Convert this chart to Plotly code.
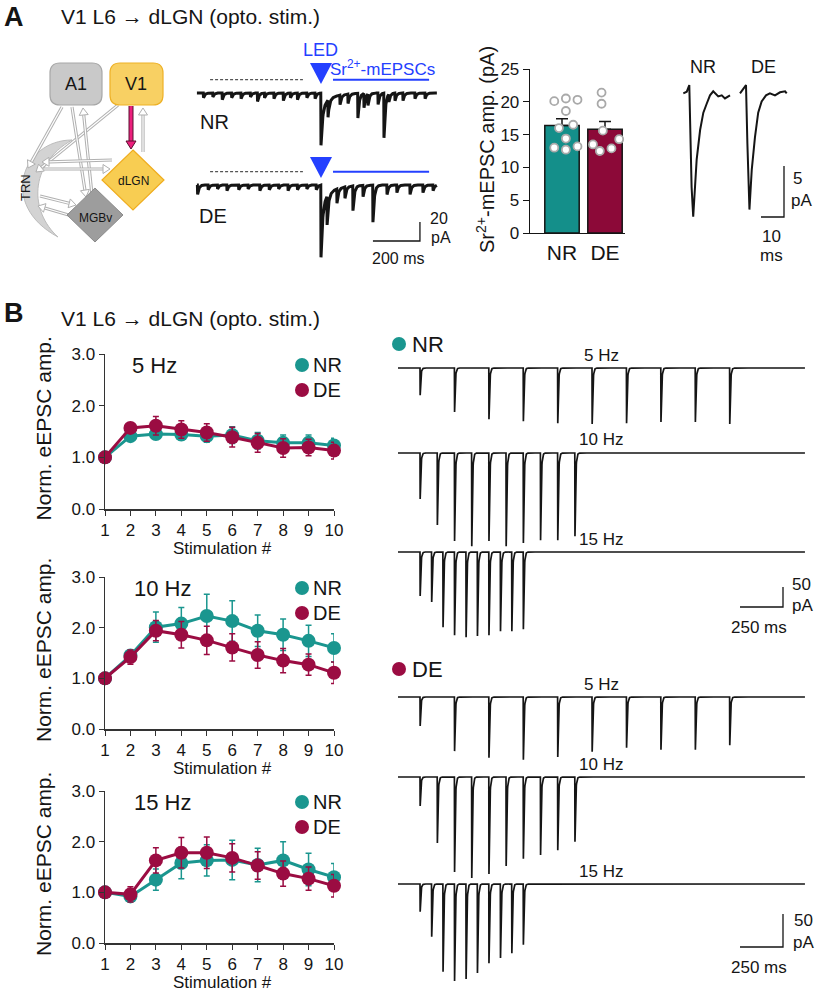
import numpy as np
import plotly.graph_objects as go

# The page body margin is removed by a post script, so the figure fills the window.
PAGE_PAD = 0
W, H = 820 - PAGE_PAD, 996 - PAGE_PAD
FONT = "Liberation Sans, Arial, Helvetica, sans-serif"
INK = "#151515"
NR_COLOR = "#1a968f"
DE_COLOR = "#9b0c42"
NR_BAR_COLOR = "#148f8a"
DE_BAR_COLOR = "#8c0938"
LED_BLUE = "#2440ff"

# ------------------------------------------------------------------ DATA
# Panel A - example Sr2+ sweeps (event time re LED [ms], amplitude [pA])
NR_EVOKED_PA = 55
DE_EVOKED_PA = 76
NR_EVENT_MS = [-500, -460, -420, -380, -340, -300, -270, -240, -200, -160, -130, -100, -60, -25,
               30, 81, 115, 157, 183, 200, 243, 268, 289, 315, 349, 400, 443]
NR_EVENT_PA = [5, 4, 7, 5, 6, 4, 9, 5, 6, 8, 5, 7, 5, 6,
               18, 10, 10, 26, 15, 12, 12, 47, 8, 8, 8, 6, 6]
DE_EVENT_MS = [-525, -480, -440, -400, -350, -310, -260, -220, -180, -140, -100, -60, -20,
               26, 68, 102, 136, 179, 221, 281, 323, 379, 434, 477]
DE_EVENT_PA = [10, 5, 4, 6, 5, 4, 6, 5, 4, 6, 5, 4, 5,
               30, 15, 12, 26, 12, 39, 10, 8, 10, 8, 6]

# Panel A - Sr2+-mEPSC amplitude summary
GROUPS = ["NR", "DE"]
GROUP_MEAN_PA = [16.4, 15.8]
GROUP_SEM_PA = [1.0, 1.2]
NR_CELL_PA = [20.1, 20.5, 20.3, 18.6, 16.0, 16.5, 14.4, 13.0, 12.7, 13.2]
DE_CELL_PA = [21.4, 19.7, 15.6, 14.3, 13.5, 12.5, 12.9]
NR_CELL_JITTER = [-0.18, 0.09, 0.36, 0.09, -0.07, 0.26, 0.09, -0.18, 0.09, 0.36]
DE_CELL_JITTER = [-0.08, -0.08, -0.05, 0.33, -0.28, -0.12, 0.15]

# Panel A - average mEPSC waveforms
NR_AVG_MS = [-2.6, -1.1, 0.0, 0.3, 1.0, 1.7, 3.2, 4.7, 6.1, 7.6, 9.0, 10.4, 12.6, 14.1, 15.5, 17.7]
NR_AVG_PA = [0.0, 0.16, 0.8, -3.3, -9.2, -12.1, -6.5, -3.6, -1.9, -1.0, -0.2, 0.2, -0.3, -0.2, -0.5, -0.2]
DE_AVG_MS = [-2.6, 0.0, 0.6, 1.2, 1.5, 2.5, 3.9, 5.3, 6.8, 8.7, 10.4, 12.6, 14.8, 17.0, 17.7]
DE_AVG_PA = [0.0, 0.8, -4.9, -10.5, -11.4, -7.5, -4.3, -1.9, -0.8, -0.2, 0.0, -0.2, 0.1, 0.2, 0.0]

# Panel B - normalized eEPSC amplitudes (mean, SEM)
STIM_NUM = list(range(1, 11))
NR_5HZ = [1.00, 1.41, 1.45, 1.44, 1.41, 1.43, 1.32, 1.28, 1.28, 1.23]
NR_5HZ_SEM = [0.0, 0.05, 0.08, 0.10, 0.12, 0.16, 0.16, 0.15, 0.15, 0.14]
DE_5HZ = [1.00, 1.57, 1.61, 1.54, 1.48, 1.39, 1.28, 1.18, 1.19, 1.13]
DE_5HZ_SEM = [0.0, 0.06, 0.18, 0.17, 0.17, 0.19, 0.18, 0.18, 0.16, 0.16]
NR_10HZ = [1.00, 1.45, 2.01, 2.08, 2.23, 2.13, 1.94, 1.86, 1.74, 1.60]
NR_10HZ_SEM = [0.0, 0.10, 0.30, 0.32, 0.43, 0.40, 0.31, 0.31, 0.31, 0.28]
DE_10HZ = [1.00, 1.42, 1.94, 1.86, 1.75, 1.61, 1.46, 1.35, 1.27, 1.11]
DE_10HZ_SEM = [0.0, 0.14, 0.20, 0.26, 0.28, 0.27, 0.26, 0.24, 0.21, 0.21]
NR_15HZ = [1.00, 0.92, 1.25, 1.58, 1.63, 1.64, 1.54, 1.63, 1.45, 1.30]
NR_15HZ_SEM = [0.0, 0.08, 0.21, 0.31, 0.31, 0.39, 0.33, 0.37, 0.32, 0.27]
DE_15HZ = [1.00, 0.96, 1.63, 1.78, 1.78, 1.68, 1.53, 1.37, 1.27, 1.13]
DE_15HZ_SEM = [0.0, 0.15, 0.25, 0.30, 0.31, 0.28, 0.27, 0.25, 0.23, 0.22]

# Panel B - example train responses (peak amplitude per pulse, pA)
TRAIN_FREQ_HZ = [5, 10, 15]
NR_TRAIN_5HZ_PA = [68, 110, 128, 133, 138, 140, 138, 135, 135, 140]
NR_TRAIN_10HZ_PA = [115, 180, 220, 233, 220, 233, 225, 218, 218, 208]
NR_TRAIN_15HZ_PA = [110, 125, 188, 208, 213, 210, 208, 198, 198, 193]
DE_TRAIN_5HZ_PA = [44, 82, 92, 95, 91, 83, 77, 80, 80, 73]
DE_TRAIN_10HZ_PA = [44, 100, 144, 153, 147, 135, 124, 118, 111, 98]
DE_TRAIN_15HZ_PA = [42, 80, 133, 147, 144, 135, 120, 112, 105, 92]


# ------------------------------------------------------------------ HELPERS
def X(p):
    return (p - PAGE_PAD) / W


def Y(p):
    return 1 - (p - PAGE_PAD) / H


def dom_x(a, b):
    return [X(a), X(b)]


def dom_y(top, bottom):
    return [Y(bottom), Y(top)]


def xr(p0, p1, p_ref, v_ref, ppu):
    return [v_ref + (p0 - p_ref) / ppu, v_ref + (p1 - p_ref) / ppu]


def yr(top, bottom, p_ref, v_ref, ppu):
    return [v_ref - (bottom - p_ref) / ppu, v_ref - (top - p_ref) / ppu]


def txt(x, y, s, size=17, color=INK, anchor="center", angle=0):
    return dict(x=X(x), y=Y(y), xref="paper", yref="paper", text=s, showarrow=False,
                font=dict(family=FONT, size=size, color=color), xanchor=anchor,
                yanchor="middle", textangle=angle, borderpad=0)


def ppath(points, close=True):
    s = "M " + " L ".join(f"{X(a):.5f},{Y(b):.5f}" for a, b in points)
    return s + (" Z" if close else "")


def rrect(x0, y0, x1, y1, r):
    def P(a, b):
        return f"{X(a):.5f},{Y(b):.5f}"
    return (f"M {P(x0 + r, y0)} L {P(x1 - r, y0)} Q {P(x1, y0)} {P(x1, y0 + r)} "
            f"L {P(x1, y1 - r)} Q {P(x1, y1)} {P(x1 - r, y1)} L {P(x0 + r, y1)} "
            f"Q {P(x0, y1)} {P(x0, y1 - r)} L {P(x0, y0 + r)} Q {P(x0, y0)} {P(x0 + r, y0)} Z")


def circle(cx, cy, r, color):
    return dict(type="circle", xref="paper", yref="paper", x0=X(cx - r), x1=X(cx + r),
                y0=Y(cy + r), y1=Y(cy - r), fillcolor=color, line=dict(width=0))


def arrow_shapes(tail, head, outer="#b0b0b0", inner="white", w_out=3.2, w_in=1.2, hl=7, hw=4.5):
    dx, dy = head[0] - tail[0], head[1] - tail[1]
    L = (dx * dx + dy * dy) ** 0.5
    ux, uy = dx / L, dy / L
    bx, by = head[0] - hl * ux, head[1] - hl * uy
    px_, py_ = -uy, ux
    out = [dict(type="line", xref="paper", yref="paper", x0=X(tail[0]), y0=Y(tail[1]), x1=X(bx), y1=Y(by),
                line=dict(color=outer, width=w_out))]
    if inner:
        out.append(dict(type="line", xref="paper", yref="paper", x0=X(tail[0]), y0=Y(tail[1]),
                        x1=X(bx), y1=Y(by), line=dict(color=inner, width=w_in)))
    out.append(dict(type="path", xref="paper", yref="paper",
                    path=ppath([head, (bx + hw * px_, by + hw * py_), (bx - hw * px_, by - hw * py_)]),
                    fillcolor=inner if inner else outer, line=dict(color=outer, width=1)))
    return out


def sr_sweep(t, evoked, ev_t, ev_a):
    y = np.zeros_like(t)
    d = t.copy()
    m = d >= 0
    y[m] -= evoked * 0.75 * np.exp(-d[m] / 7.0) + evoked * 0.25 * np.exp(-d[m] / 45.0)
    for t0, a in zip(ev_t, ev_a):
        d = t - t0
        m = d >= 0
        y[m] -= a * np.exp(-d[m] / 6.0)
    return y


def train_sweep(t, freq, amps):
    y = np.zeros_like(t)
    for k, a in enumerate(amps):
        t0 = round(k * 1000.0 / freq)
        d = t - (t0 + 1)
        m = d >= 0
        y[m] -= a * np.exp(-d[m] / 4.0)
    return y


fig = go.Figure()
shapes = []
ann = []
layout_axes = {}
HIDDEN = dict(visible=False, showgrid=False, zeroline=False, fixedrange=True, automargin=False)

# ------------------------------------------------------------------ Panel A: sweeps (axis 1)
A_PPU_X, A_PPU_Y = 0.235, 0.95
A_DE_OFFSET = -(185 - 93) / A_PPU_Y
t_sr = np.arange(-528, 494, 1.0)
nr_sw = sr_sweep(t_sr, NR_EVOKED_PA, NR_EVENT_MS, NR_EVENT_PA)
de_sw = sr_sweep(t_sr, DE_EVOKED_PA, DE_EVENT_MS, DE_EVENT_PA) + A_DE_OFFSET
for ysw in (nr_sw, de_sw):
    fig.add_trace(go.Scatter(x=t_sr, y=ysw, mode="lines", line=dict(color=INK, width=3.0),
                             xaxis="x", yaxis="y", hoverinfo="skip"))
layout_axes["xaxis"] = dict(HIDDEN, domain=dom_x(195, 440), range=xr(195, 440, 321, 0, A_PPU_X), anchor="y")
layout_axes["yaxis"] = dict(HIDDEN, domain=dom_y(45, 265), range=yr(45, 265, 93, 0, A_PPU_Y), anchor="x")
for base in (0, A_DE_OFFSET):
    shapes.append(dict(type="line", xref="x", yref="y", x0=-472, x1=-77, y0=base + 14, y1=base + 14,
                       line=dict(color="#555555", width=1.2, dash="3px,2px")))
    shapes.append(dict(type="line", xref="x", yref="y", x0=51, x1=460, y0=base + 14, y1=base + 14,
                       line=dict(color=LED_BLUE, width=2)))
shapes.append(dict(type="path", xref="paper", yref="paper", path=ppath([(310, 63), (332, 63), (321, 84)]),
                   fillcolor=LED_BLUE, line=dict(width=0)))
shapes.append(dict(type="path", xref="paper", yref="paper", path=ppath([(310, 157), (332, 157), (321, 178)]),
                   fillcolor=LED_BLUE, line=dict(width=0)))
sb_y = -(241 - 93) / A_PPU_Y
shapes.append(dict(type="path", xref="x", yref="y",
                   path=f"M 221,{sb_y} L 421,{sb_y} L 421,{sb_y + 20}",
                   line=dict(color=INK, width=1.3)))
ann += [txt(320, 50, "LED", 18, LED_BLUE), txt(382, 68, "Sr<sup>2+</sup>-mEPSCs", 17, LED_BLUE),
        txt(214, 122, "NR", 20), txt(213, 216, "DE", 20),
        txt(439, 219, "20", 16), txt(441, 238, "pA", 16), txt(398, 258, "200 ms", 16)]

# ------------------------------------------------------------------ Panel A: bar chart (axis 2)
fig.add_trace(go.Bar(x=[0, 1], y=GROUP_MEAN_PA, width=0.8,
                     marker=dict(color=[NR_BAR_COLOR, DE_BAR_COLOR], line=dict(color=INK, width=1.5)),
                     error_y=dict(type="data", array=GROUP_SEM_PA, arrayminus=[0, 0], symmetric=False,
                                  color=INK, thickness=1.5, width=6),
                     xaxis="x2", yaxis="y2", hoverinfo="skip"))
for gi, (vals, jit) in enumerate([(NR_CELL_PA, NR_CELL_JITTER), (DE_CELL_PA, DE_CELL_JITTER)]):
    fig.add_trace(go.Scatter(x=[gi + j for j in jit], y=vals, mode="markers",
                             marker=dict(symbol="circle", size=8, color="white",
                                         line=dict(color="#a9a9a9", width=1.8)),
                             cliponaxis=False, xaxis="x2", yaxis="y2", hoverinfo="skip"))
layout_axes["xaxis2"] = dict(domain=dom_x(530, 625), range=[-0.744, 1.465], anchor="y2", automargin=False,
                             showline=True, linecolor=INK, linewidth=1.3, ticks="",
                             tickvals=[0, 1], ticktext=GROUPS, showgrid=False, zeroline=False,
                             tickfont=dict(family=FONT, size=21, color=INK), fixedrange=True)
layout_axes["yaxis2"] = dict(domain=dom_y(69, 233), range=[0, 25], anchor="x2", automargin=False,
                             showline=True, linecolor=INK, linewidth=1.3, ticks="outside", ticklen=6,
                             tickcolor=INK, tickvals=[0, 5, 10, 15, 20, 25], showgrid=False,
                             zeroline=False, tickfont=dict(family=FONT, size=17, color=INK), fixedrange=True)
ann.append(txt(486, 150, "Sr<sup>2+</sup>-mEPSC amp. (pA)", 20, angle=-90))

# ------------------------------------------------------------------ Panel A: average waveforms (axis 3)
AVG_PPU_X, AVG_PPU_Y = 2.3, 10.2
AVG_DE_SHIFT_MS = (746 - 689.3) / AVG_PPU_X
fig.add_trace(go.Scatter(x=NR_AVG_MS, y=NR_AVG_PA, mode="lines", line=dict(color=INK, width=2),
                         xaxis="x3", yaxis="y3", hoverinfo="skip"))
fig.add_trace(go.Scatter(x=[t + AVG_DE_SHIFT_MS for t in DE_AVG_MS], y=DE_AVG_PA, mode="lines",
                         line=dict(color=INK, width=2), xaxis="x3", yaxis="y3", hoverinfo="skip"))
layout_axes["xaxis3"] = dict(HIDDEN, domain=dom_x(675, 798), range=xr(675, 798, 689.3, 0, AVG_PPU_X), anchor="y3")
layout_axes["yaxis3"] = dict(HIDDEN, domain=dom_y(75, 225), range=yr(75, 225, 93.3, 0, AVG_PPU_Y), anchor="x3")
avg_sb_x = (784 - 689.3) / AVG_PPU_X
avg_sb_y = -(217 - 93.3) / AVG_PPU_Y
shapes.append(dict(type="path", xref="x3", yref="y3",
                   path=f"M {avg_sb_x - 10},{avg_sb_y} L {avg_sb_x},{avg_sb_y} L {avg_sb_x},{avg_sb_y + 5}",
                   line=dict(color=INK, width=1.3)))
ann += [txt(703, 67, "NR", 18), txt(763, 67, "DE", 18),
        txt(797, 178, "5", 17), txt(801, 200, "pA", 17), txt(771, 237, "10", 17), txt(771, 256, "ms", 17)]

# ------------------------------------------------------------------ Circuit diagram
shapes.append(dict(type="path", xref="paper", yref="paper",
                   path=(f"M {X(72):.5f},{Y(140):.5f} C {X(22):.5f},{Y(140):.5f} {X(-2):.5f},{Y(205):.5f} {X(58):.5f},{Y(237):.5f} "
                         f"C {X(30):.5f},{Y(212):.5f} {X(28):.5f},{Y(165):.5f} {X(72):.5f},{Y(140):.5f} Z"),
                   fillcolor="#d3d3d3", line=dict(color="#bcbcbc", width=1)))
for tail, head in [((62, 107), (28, 168)), ((118, 105), (36, 172)),
                   ((72, 107), (86, 197)), ((92, 195), (83, 108)),
                   ((143, 152), (143, 108)),
                   ((112, 160), (42, 162)), ((44, 169), (110, 169)),
                   ((40, 196), (76, 205)), ((72, 216), (38, 206))]:
    shapes += arrow_shapes(tail, head)
shapes += [
    dict(type="path", xref="paper", yref="paper", path=rrect(50, 63, 102, 105, 10),
         fillcolor="#c9c9c9", line=dict(color="#a8a8a8", width=1.2)),
    dict(type="path", xref="paper", yref="paper", path=rrect(110, 63, 163, 105, 10),
         fillcolor="#f8d063", line=dict(color="#eeb126", width=1.2)),
    dict(type="path", xref="paper", yref="paper", path=ppath([(95, 188), (123, 215), (95, 242), (67, 215)]),
         fillcolor="#9d9d9d", line=dict(color="#8a8a8a", width=1)),
    dict(type="path", xref="paper", yref="paper", path=ppath([(133, 150), (164, 180), (133, 210), (102, 180)]),
         fillcolor="#f8cd52", line=dict(color="#f0ad1e", width=1.2)),
]
shapes += arrow_shapes((131, 106), (131, 149), outer="#5a1030", inner="#ec1f7d", w_out=5, w_in=3, hl=8, hw=5)
ann += [txt(76, 84, "A1", 18), txt(136, 84, "V1", 18), txt(133, 181, "dLGN", 12),
        txt(95, 218, "MGBv", 12), txt(25, 188, "TRN", 13, angle=-90)]

# ------------------------------------------------------------------ Panel B: line charts (axes 4-6)
LINE_PANELS = [
    ("5 Hz", NR_5HZ, NR_5HZ_SEM, DE_5HZ, DE_5HZ_SEM, 354, 509),
    ("10 Hz", NR_10HZ, NR_10HZ_SEM, DE_10HZ, DE_10HZ_SEM, 577, 729),
    ("15 Hz", NR_15HZ, NR_15HZ_SEM, DE_15HZ, DE_15HZ_SEM, 791, 943),
]
for i, (lab, nr, nr_e, de, de_e, top, bot) in enumerate(LINE_PANELS):
    k = i + 4
    for vals, errs, col in ((nr, nr_e, NR_COLOR), (de, de_e, DE_COLOR)):
        fig.add_trace(go.Scatter(x=STIM_NUM, y=vals, mode="lines+markers",
                                 line=dict(color=col, width=3), marker=dict(color=col, size=14),
                                 error_y=dict(type="data", array=errs, color=col, thickness=1.5, width=3),
                                 cliponaxis=False, xaxis=f"x{k}", yaxis=f"y{k}", hoverinfo="skip"))
    layout_axes[f"xaxis{k}"] = dict(domain=dom_x(105, 334), range=[1, 10], anchor=f"y{k}", automargin=False,
                                    showline=True, linecolor="#333333", linewidth=1.5, ticks="outside",
                                    ticklen=5, tickcolor="#333333", tickvals=STIM_NUM, showgrid=False,
                                    zeroline=False, tickfont=dict(family=FONT, size=17, color=INK),
                                    fixedrange=True)
    layout_axes[f"yaxis{k}"] = dict(domain=dom_y(top, bot), range=[0, 3], anchor=f"x{k}", automargin=False,
                                    showline=True, linecolor="#333333", linewidth=1.5, ticks="outside",
                                    ticklen=5, tickcolor="#333333", tickvals=[0, 1, 2, 3], tickformat=".1f",
                                    showgrid=False, zeroline=False,
                                    tickfont=dict(family=FONT, size=17, color=INK), fixedrange=True)
    ann += [txt(154 if i == 0 else 162, top + 11, lab, 22),
            txt(222, bot + 39, "Stimulation #", 17),
            txt(43, (top + bot) / 2 - 3, "Norm. eEPSC amp.", 21, angle=-90),
            txt(312, top + 11, "NR", 20, anchor="left"),
            txt(312, top + 36, "DE", 20, anchor="left")]
    shapes += [circle(302, top + 11, 7, NR_COLOR), circle(302, top + 36, 7, DE_COLOR)]

# ------------------------------------------------------------------ Panel B: example trains (axes 7-12)
TR_PPU_X = 0.172
t_tr = np.arange(-128, 2239, 1.0)
TRAIN_ROWS = [
    (NR_TRAIN_5HZ_PA, 5, 368, 0.40), (NR_TRAIN_10HZ_PA, 10, 453, 0.40), (NR_TRAIN_15HZ_PA, 15, 552, 0.40),
    (DE_TRAIN_5HZ_PA, 5, 697, 0.66), (DE_TRAIN_10HZ_PA, 10, 777, 0.66), (DE_TRAIN_15HZ_PA, 15, 884, 0.66),
]
for j, (amps, f, base, ppu) in enumerate(TRAIN_ROWS):
    k = j + 7
    fig.add_trace(go.Scatter(x=t_tr, y=train_sweep(t_tr, f, amps), mode="lines",
                             line=dict(color=INK, width=1.7), xaxis=f"x{k}", yaxis=f"y{k}",
                             hoverinfo="skip"))
    bot = base + (105 if ppu < 0.5 else 110)
    layout_axes[f"xaxis{k}"] = dict(HIDDEN, domain=dom_x(396, 808), range=xr(396, 808, 420, 0, TR_PPU_X),
                                    anchor=f"y{k}")
    layout_axes[f"yaxis{k}"] = dict(HIDDEN, domain=dom_y(base - 10, bot), range=yr(base - 10, bot, base, 0, ppu),
                                    anchor=f"x{k}")
    ann.append(txt(601, base - 13, f"{f} Hz", 17))

for k, base, ppu, ybar in ((9, 552, 0.40, 607), (12, 884, 0.66, 947)):
    sx1 = (783 - 420) / TR_PPU_X
    sy = -(ybar - base) / ppu
    shapes.append(dict(type="path", xref=f"x{k}", yref=f"y{k}",
                       path=f"M {sx1 - 250},{sy} L {sx1},{sy} L {sx1},{sy + 50}",
                       line=dict(color=INK, width=1.3)))
ann += [txt(801, 584, "50", 17), txt(802, 605, "pA", 17), txt(759, 627, "250 ms", 17),
        txt(803, 920, "50", 17), txt(803, 942, "pA", 17), txt(759, 967, "250 ms", 17)]
shapes += [circle(399, 344, 7, NR_COLOR), circle(399, 669, 7, DE_COLOR)]
ann += [txt(411, 344, "NR", 22, anchor="left"), txt(411, 669, "DE", 22, anchor="left")]

# ------------------------------------------------------------------ Panel labels / titles
ann += [txt(14, 17, "<b>A</b>", 27), txt(60, 17, "V1 L6 \u2192 dLGN (opto. stim.)", 21, anchor="left"),
        txt(14, 313, "<b>B</b>", 27), txt(60, 318, "V1 L6 \u2192 dLGN (opto. stim.)", 21, anchor="left")]

fig.update_layout(template="none", width=W, height=H, margin=dict(l=0, r=0, t=0, b=0, pad=0),
                  autosize=False, paper_bgcolor="white", plot_bgcolor="rgba(0,0,0,0)", showlegend=False,
                  font=dict(family=FONT, color=INK), shapes=shapes, annotations=ann,
                  bargap=0.2, **layout_axes)
fig.write_html("out.html", config={"displayModeBar": False, "staticPlot": True},
               post_script="document.body.style.margin='0';document.body.style.overflow='hidden';")
